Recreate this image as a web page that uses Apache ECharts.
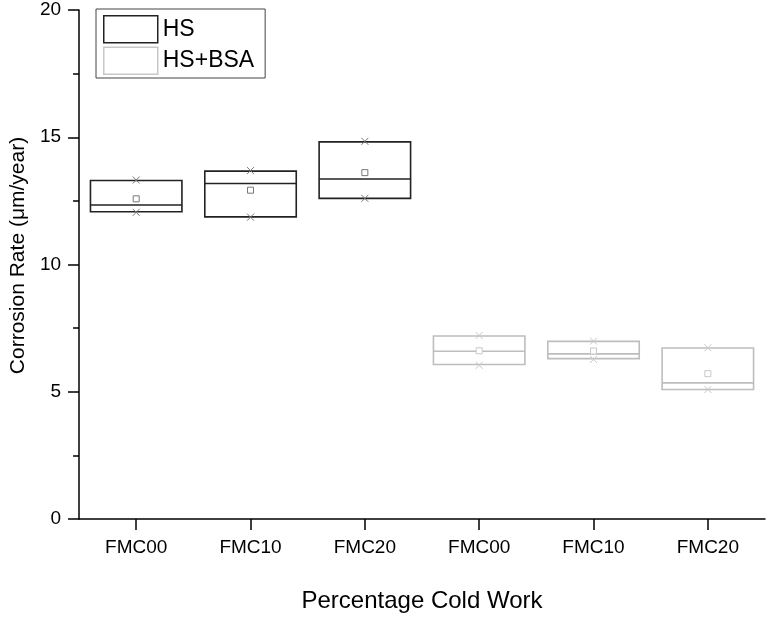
<!DOCTYPE html>
<html>
<head>
<meta charset="utf-8">
<script src="https://cdn.jsdelivr.net/npm/echarts@6/dist/echarts.min.js"></script>
<style>
  html, body { margin: 0; padding: 0; background: #fff; }
  #chart { width: 767px; height: 618px; }
</style>
</head>
<body>
<div id="chart"></div>
<script>
// categories on the x axis (two groups of the same three alloys)
const categories = ["FMC00", "FMC10", "FMC20", "FMC00", "FMC10", "FMC20"];
const yTicks = [0, 5, 10, 15, 20];

// HS: box edges, median, mean, and the two x markers
const hsIndex = [0, 1, 2];
const hsBoxLow = [12.07, 11.87, 12.60];
const hsBoxHigh = [13.30, 13.67, 14.82];
const hsMedian = [12.34, 13.18, 13.36];
const hsMean = [12.58, 12.92, 13.61];
const hsMin = [12.05, 11.86, 12.60];
const hsMax = [13.32, 13.69, 14.84];

// HS+BSA
const bsaIndex = [3, 4, 5];
const bsaBoxLow = [6.07, 6.30, 5.09];
const bsaBoxHigh = [7.19, 6.98, 6.72];
const bsaMedian = [6.59, 6.49, 5.35];
const bsaMean = [6.61, 6.60, 5.71];
const bsaMin = [6.04, 6.27, 5.09];
const bsaMax = [7.21, 6.99, 6.73];

const font = "Arial, 'Liberation Sans', sans-serif";

const rows = (idx, lo, hi, med, mean, mn, mx) =>
  idx.map((x, i) => [x, lo[i], hi[i], med[i], mean[i], mn[i], mx[i]]);

// box + median line + mean square + x markers
const makeRender = (lineColor, markColor) => (params, api) => {
  const x = api.value(0);
  const bw = api.size([1, 0])[0] * 0.8;
  const pLow = api.coord([x, api.value(1)]);
  const pHigh = api.coord([x, api.value(2)]);
  const pMed = api.coord([x, api.value(3)]);
  const pMean = api.coord([x, api.value(4)]);
  const pMin = api.coord([x, api.value(5)]);
  const pMax = api.coord([x, api.value(6)]);
  const cx = pLow[0];
  const s = 3.5;
  const cross = (p) => [
    { type: "line", shape: { x1: cx - s, y1: p[1] - s, x2: cx + s, y2: p[1] + s }, style: { stroke: markColor, lineWidth: 1 } },
    { type: "line", shape: { x1: cx - s, y1: p[1] + s, x2: cx + s, y2: p[1] - s }, style: { stroke: markColor, lineWidth: 1 } },
  ];
  return {
    type: "group",
    children: [
      {
        type: "rect",
        shape: { x: cx - bw / 2, y: pHigh[1], width: bw, height: pLow[1] - pHigh[1] },
        style: { fill: "none", stroke: lineColor, lineWidth: 1.6 },
      },
      {
        type: "line",
        shape: { x1: cx - bw / 2, y1: pMed[1], x2: cx + bw / 2, y2: pMed[1] },
        style: { stroke: lineColor, lineWidth: 1.6 },
      },
      {
        type: "rect",
        shape: { x: cx - 3, y: pMean[1] - 3, width: 6, height: 6 },
        style: { fill: "#fff", stroke: markColor, lineWidth: 1 },
      },
      ...cross(pMin),
      ...cross(pMax),
    ],
  };
};

const chart = echarts.init(document.getElementById("chart"));
chart.setOption({
  animation: false,
  backgroundColor: "#fff",
  textStyle: { fontFamily: font },
  grid: { left: 77, right: 2, top: 10, bottom: 97 },
  legend: {
    left: 96,
    top: 9,
    orient: "vertical",
    itemWidth: 54,
    itemHeight: 27,
    itemGap: 3,
    padding: [6, 11, 3, 7],
    borderColor: "#444",
    borderWidth: 1,
    borderRadius: 0,
    textStyle: { fontSize: 23, lineHeight: 27, color: "#000", fontFamily: font },
    data: [
      { name: "HS", icon: "rect", itemStyle: { color: "#fff", borderColor: "#222", borderWidth: 1.5 } },
      { name: "HS+BSA", icon: "rect", itemStyle: { color: "#fff", borderColor: "#c8c8c8", borderWidth: 1.5 } },
    ],
  },
  xAxis: {
    type: "category",
    data: categories.map((c, i) => i),
    boundaryGap: true,
    name: "Percentage Cold Work",
    nameLocation: "middle",
    nameGap: 70,
    nameTextStyle: { fontSize: 24, color: "#000", fontFamily: font },
    axisLine: { lineStyle: { color: "#000", width: 1.5 } },
    axisTick: { show: true, interval: 0, alignWithLabel: true, length: 11, lineStyle: { color: "#000", width: 1.5 } },
    axisLabel: {
      formatter: (v) => categories[v],
      fontSize: 19,
      color: "#000",
      margin: 19,
      interval: 0,
    },
    splitLine: { show: false },
  },
  yAxis: {
    type: "value",
    min: yTicks[0],
    max: yTicks[yTicks.length - 1],
    interval: 5,
    name: "Corrosion Rate (\u03bcm/year)",
    nameLocation: "middle",
    nameGap: 50,
    nameTextStyle: { fontSize: 21, color: "#000", fontFamily: font, padding: [0, 0, 0, 18] },
    axisLine: { show: true, lineStyle: { color: "#000", width: 1.5 } },
    axisTick: { show: true, length: 11, lineStyle: { color: "#000", width: 1.5 } },
    minorTick: { show: true, splitNumber: 2, length: 6, lineStyle: { color: "#000", width: 1.5 } },
    axisLabel: { fontSize: 19, color: "#000", margin: 18 },
    splitLine: { show: false },
  },
  series: [
    {
      name: "HS",
      type: "custom",
      renderItem: makeRender("#222", "#777"),
      encode: { x: 0, y: [1, 2, 3, 4, 5, 6] },
      data: rows(hsIndex, hsBoxLow, hsBoxHigh, hsMedian, hsMean, hsMin, hsMax),
      itemStyle: { color: "#fff", borderColor: "#222" },
    },
    {
      name: "HS+BSA",
      type: "custom",
      renderItem: makeRender("#bdbdbd", "#c8c8c8"),
      encode: { x: 0, y: [1, 2, 3, 4, 5, 6] },
      data: rows(bsaIndex, bsaBoxLow, bsaBoxHigh, bsaMedian, bsaMean, bsaMin, bsaMax),
      itemStyle: { color: "#fff", borderColor: "#c8c8c8" },
    },
  ],
});
</script>
</body>
</html>
